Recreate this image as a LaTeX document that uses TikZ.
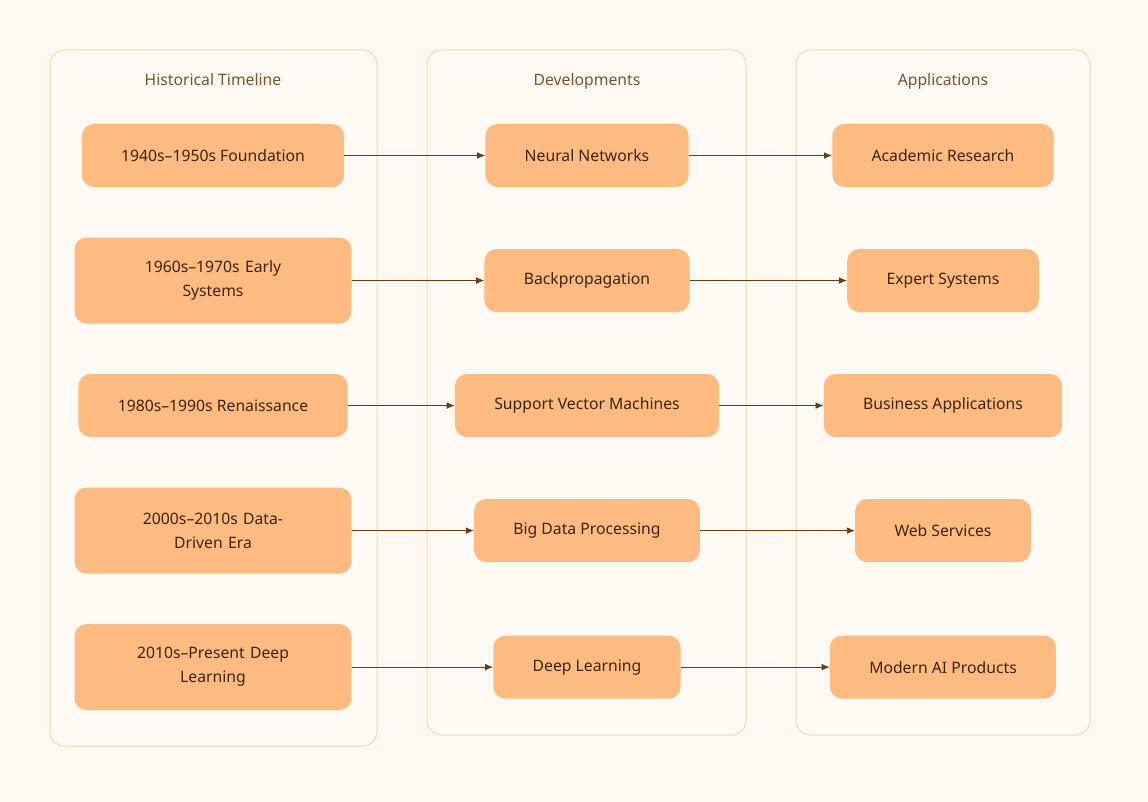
\documentclass[tikz,border=0pt]{standalone}
\usepackage{fontspec}
\setmainfont{Noto Sans}
\usetikzlibrary{positioning, arrows.meta}
\definecolor{pagebg}{RGB}{255,249,241}
\definecolor{lanefill}{RGB}{255,250,243}
\definecolor{laneline}{RGB}{236,220,176}
\definecolor{nodefill}{RGB}{255,187,128}
\definecolor{inkbrown}{RGB}{58,36,18}
\definecolor{titlebrown}{RGB}{120,84,40}
\definecolor{arrowbrown}{RGB}{110,58,18}

\begin{document}
\begin{tikzpicture}[x=0.75pt, y=-0.75pt, node distance=37.5pt,
      every node/.style={font=\fontsize{11.8}{18}\selectfont},
      lane/.style={draw=laneline, fill=lanefill, rounded corners=11pt, line width=0.75pt},
      lanetitle/.style={text=titlebrown, anchor=base},
      era/.style={fill=nodefill, rounded corners=9pt, text=inkbrown, align=center,
                  minimum height=47.25pt, inner xsep=29.5pt},
      twoline/.style={text width=148.75pt, minimum height=64.5pt},
      arr/.style={-{Latex[length=6pt, width=5pt]}, arrowbrown, line width=0.6pt}]
    \fill[pagebg] (0,0) rectangle (1148,802);
    \useasboundingbox (0,0) rectangle (1148,802);
    % lanes
    \draw[lane] (50,50) rectangle (377,746);
    \draw[lane] (427,50) rectangle (746,735);
    \draw[lane] (796,50) rectangle (1090,735);
    \node[lanetitle] (hist) at (213,86) {Historical Timeline};
    \node[lanetitle] (devs) at (587,86) {Developments};
    \node[lanetitle] (apps) at (943,86) {Applications};
    \coordinate (devcol) at (587,0);
    \coordinate (appcol) at (943,0);
    % timeline
    \node[era] (era1) at (213,155.5) {1940s--1950s Foundation};
    \node[era, twoline, below=of era1] (era2) {1960s--1970s Early\\ Systems};
    \node[era, below=of era2] (era3) {1980s--1990s Renaissance};
    \node[era, twoline, below=of era3] (era4) {2000s--2010s Data-\\ Driven Era};
    \node[era, twoline, below=of era4] (era5) {2010s--Present Deep\\ Learning};
    % developments
    \node[era] (dev1) at (devcol |- era1) {Neural Networks};
    \node[era] (dev2) at (devcol |- era2) {Backpropagation};
    \node[era] (dev3) at (devcol |- era3) {Support Vector Machines};
    \node[era] (dev4) at (devcol |- era4) {Big Data Processing};
    \node[era] (dev5) at (devcol |- era5) {Deep Learning};
    % applications
    \node[era] (app1) at (appcol |- era1) {Academic Research};
    \node[era] (app2) at (appcol |- era2) {Expert Systems};
    \node[era] (app3) at (appcol |- era3) {Business Applications};
    \node[era] (app4) at (appcol |- era4) {Web Services};
    \node[era] (app5) at (appcol |- era5) {Modern AI Products};
    \foreach \i in {1,...,5} {
      \draw[arr] (era\i) -- (dev\i);
      \draw[arr] (dev\i) -- (app\i);
    }
  \end{tikzpicture}
\end{document}
